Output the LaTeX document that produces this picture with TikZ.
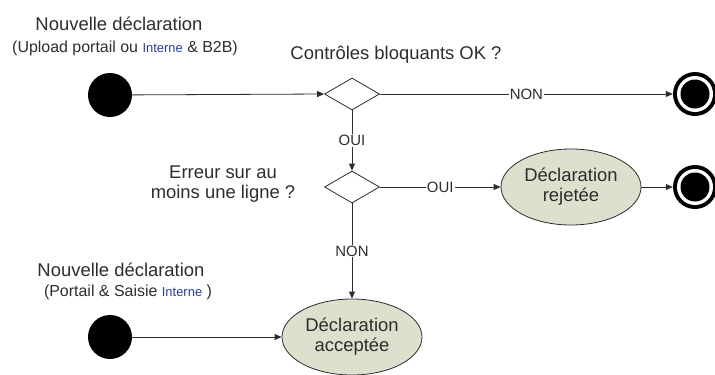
\documentclass[tikz,border=0pt]{standalone}
\usepackage{fontspec}
\setmainfont{Liberation Sans}
\usetikzlibrary{arrows.meta,shapes.geometric}
\definecolor{statefill}{RGB}{221,224,204}
\definecolor{intblue}{RGB}{40,60,150}
\definecolor{ink}{RGB}{45,45,45}
\newcommand{\interne}{{\fontsize{13}{15}\selectfont\color{intblue}Interne}}
\tikzset{
  every node/.style={font=\fontsize{18.5}{20}\selectfont, text=ink},
  startdot/.style={circle, fill=black, minimum size=44bp, inner sep=0pt},
  ring/.style={circle, fill=black, minimum size=44bp, inner sep=0pt},
  gapring/.style={circle, fill=white, minimum size=36bp, inner sep=0pt},
  core/.style={circle, fill=black, minimum size=29bp, inner sep=0pt},
  decision/.style={diamond, draw=ink, line width=0.8bp, minimum width=55bp, minimum height=32bp, inner sep=0pt, aspect=1.7},
  statebox/.style={ellipse, draw=ink, line width=0.8bp, fill=statefill, minimum width=140bp, minimum height=76bp, inner sep=0pt, align=center},
  flow/.style={draw=ink, line width=0.8bp, -{Triangle[length=7bp,width=6bp]}},
  lbl/.style={font=\fontsize{15}{17}\selectfont, fill=white, inner sep=1bp},
  small/.style={font=\fontsize{16}{18}\selectfont}
}
\begin{document}
\begin{tikzpicture}[x=1bp,y=-1bp]
\useasboundingbox (0,0) rectangle (715,374);

% texts
\node (t1) at (119,24) {Nouvelle déclaration};
\node[small] (t2) at (125,48) {(Upload portail ou \interne{} \& B2B)};
\node (t3) at (396,55) {Contrôles bloquants OK ?};
\node[align=center] (t4) at (223,184) {Erreur sur au\\moins une ligne ?};
\node (t5) at (121,270) {Nouvelle déclaration};
\node[small] (t6) at (128,292) {(Portail \& Saisie \interne{} )};

% nodes
\node[startdot] (s1) at (110,95) {};
\node[startdot] (s2) at (110,337) {};
\node[decision] (d1) at (352,94) {};
\node[decision] (d2) at (352,187) {};
\node[statebox] (rej) at (571,187) {Déclaration\\rejetée};
\node[statebox] (acc) at (352,337) {Déclaration\\acceptée};

% final states
\node[ring] (f1) at (695,94) {};
\node[gapring] at (f1) {};
\node[core] at (f1) {};
\node[ring] (f2) at (695,187) {};
\node[gapring] at (f2) {};
\node[core] at (f2) {};

% connectors
\draw[flow] (s1) -- (d1.west);
\draw[flow] (d1.east) -- node[lbl] {NON} (f1.west);
\draw[flow] (d1.south) -- node[lbl] {OUI} (d2.north);
\draw[flow] (d2.east) -- node[lbl] {OUI} (rej.west);
\draw[flow] (rej.east) -- (f2.west);
\draw[flow] (d2.south) -- node[lbl] {NON} (acc.north);
\draw[flow] (s2) -- (acc.west);
\end{tikzpicture}
\end{document}
